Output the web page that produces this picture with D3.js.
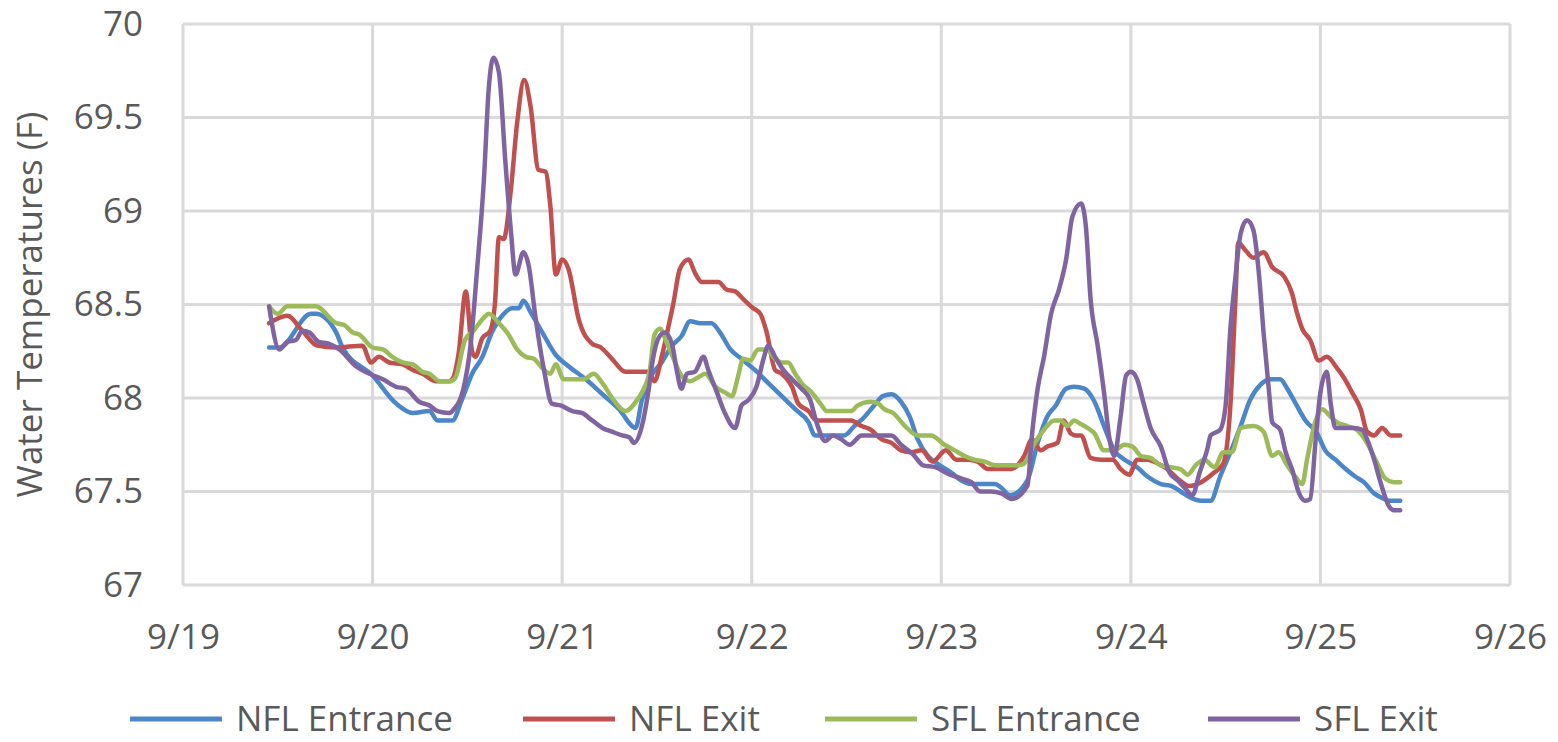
<!DOCTYPE html>
<html>
<head>
<meta charset="utf-8">
<script src="https://cdn.jsdelivr.net/npm/d3@7"></script>
<style>
  body { margin: 0; background: #fff; }
  text { font-family: "Open Sans", "Noto Sans", sans-serif; fill: #595959; }
</style>
</head>
<body>
<div id="chart-area"></div>
<script>
// hours after 9/19 00:00, temperature (F)
var nflEntrance = [[10.9,68.27],[12.2,68.27],[16.2,68.45],[16.8,68.45],[19.4,68.35],[20.2,68.27],[24.0,68.12],[27.0,67.97],[29.1,67.92],[31.2,67.93],[32.2,67.88],[34.1,67.88],[35.3,67.99],[36.6,68.13],[37.9,68.22],[39.1,68.35],[40.4,68.44],[41.7,68.48],[42.5,68.48],[43.1,68.52],[44.0,68.46],[45.5,68.35],[47.2,68.23],[48.8,68.17],[51.0,68.10],[53.1,68.02],[55.2,67.94],[57.3,67.84],[58.1,67.99],[59.3,68.12],[60.6,68.19],[61.9,68.28],[63.1,68.33],[64.2,68.41],[65.5,68.40],[66.9,68.40],[68.0,68.35],[69.3,68.26],[70.7,68.21],[72.4,68.15],[74.1,68.08],[75.8,68.01],[77.5,67.94],[79.2,67.87],[80.0,67.80],[81.5,67.80],[83.7,67.80],[85.0,67.85],[86.3,67.90],[87.5,67.96],[88.6,68.01],[89.7,68.02],[90.9,67.98],[92.0,67.90],[93.0,67.78],[94.3,67.69],[95.8,67.64],[97.3,67.60],[98.5,67.56],[99.8,67.54],[101.5,67.54],[102.8,67.54],[103.6,67.52],[104.7,67.48],[106.9,67.56],[108.2,67.76],[109.4,67.90],[110.5,67.96],[111.8,68.05],[112.8,68.06],[114.1,68.05],[115.4,67.98],[116.6,67.85],[117.9,67.72],[119.2,67.67],[120.8,67.63],[122.1,67.58],[123.8,67.54],[125.1,67.53],[126.3,67.50],[127.4,67.47],[128.9,67.45],[130.1,67.45],[131.3,67.58],[132.6,67.71],[133.9,67.85],[135.1,67.99],[136.4,68.07],[137.7,68.10],[138.9,68.10],[139.8,68.05],[141.0,67.96],[142.1,67.88],[143.6,67.81],[144.6,67.72],[145.9,67.67],[147.2,67.62],[148.4,67.58],[149.5,67.55],[150.8,67.49],[151.6,67.47],[152.9,67.45],[154.1,67.45]];

var nflExit = [[10.9,68.40],[13.2,68.44],[15.1,68.36],[17.0,68.28],[19.4,68.27],[22.7,68.28],[23.8,68.19],[24.8,68.22],[26.1,68.19],[27.8,68.18],[29.1,68.15],[30.3,68.13],[32.0,68.09],[33.7,68.09],[34.1,68.10],[34.9,68.24],[35.8,68.57],[36.6,68.25],[37.0,68.22],[37.9,68.32],[38.9,68.36],[39.5,68.51],[40.0,68.86],[40.6,68.85],[41.5,69.11],[42.3,69.47],[43.2,69.70],[44.0,69.56],[45.0,69.22],[45.9,69.21],[46.5,69.03],[47.2,68.66],[48.0,68.74],[48.8,68.69],[50.1,68.42],[51.8,68.29],[52.9,68.27],[54.3,68.21],[56.0,68.14],[57.5,68.14],[58.9,68.14],[59.7,68.09],[60.6,68.22],[61.4,68.37],[62.1,68.51],[62.9,68.69],[64.0,68.74],[64.8,68.67],[65.7,68.62],[66.7,68.62],[67.8,68.62],[68.8,68.58],[69.9,68.57],[70.9,68.53],[72.2,68.48],[73.1,68.45],[73.9,68.35],[74.96,68.15],[75.8,68.13],[77.1,68.06],[77.9,67.97],[79.2,67.93],[80.2,67.88],[81.5,67.88],[84.6,67.88],[85.9,67.85],[87.1,67.83],[88.4,67.78],[89.7,67.76],[90.9,67.72],[92.2,67.71],[93.5,67.72],[94.9,67.66],[96.6,67.72],[97.9,67.67],[99.4,67.67],[100.6,67.66],[101.9,67.62],[103.2,67.62],[104.9,67.62],[106.5,67.69],[107.5,67.78],[108.6,67.72],[109.4,67.74],[110.7,67.76],[111.5,67.88],[112.4,67.81],[113.0,67.80],[113.7,67.80],[114.9,67.68],[116.2,67.67],[117.7,67.67],[118.7,67.62],[119.8,67.59],[120.8,67.67],[122.1,67.67],[123.4,67.65],[124.6,67.62],[125.9,67.57],[127.4,67.53],[128.9,67.55],[130.5,67.60],[131.7,67.65],[132.6,67.96],[133.2,68.49],[133.6,68.83],[134.5,68.79],[135.5,68.75],[136.8,68.78],[137.9,68.70],[139.4,68.65],[140.4,68.56],[141.0,68.46],[141.7,68.37],[142.7,68.31],[143.8,68.20],[144.8,68.22],[146.1,68.16],[146.96,68.11],[148.0,68.03],[149.1,67.94],[149.9,67.82],[150.8,67.80],[151.8,67.84],[152.9,67.80],[154.1,67.80]];

var sflEntrance = [[10.9,68.49],[12.0,68.45],[13.2,68.49],[16.8,68.49],[19.4,68.40],[20.4,68.39],[21.5,68.35],[22.3,68.34],[24.0,68.27],[25.3,68.26],[26.5,68.22],[27.8,68.19],[29.1,68.18],[30.3,68.14],[31.2,68.13],[32.5,68.09],[33.9,68.09],[34.5,68.11],[35.7,68.31],[36.8,68.36],[38.1,68.43],[38.7,68.45],[40.0,68.40],[41.2,68.34],[42.3,68.26],[43.4,68.22],[44.4,68.21],[45.5,68.16],[46.5,68.13],[47.2,68.18],[48.2,68.10],[49.7,68.10],[50.7,68.10],[52.0,68.13],[53.1,68.08],[54.5,67.99],[56.0,67.93],[57.5,67.99],[58.1,68.03],[59.1,68.15],[59.7,68.34],[60.4,68.37],[61.2,68.30],[62.1,68.21],[63.1,68.12],[64.2,68.09],[65.2,68.11],[66.1,68.13],[67.4,68.06],[68.6,68.03],[69.5,68.01],[70.3,68.12],[70.9,68.21],[71.8,68.20],[72.8,68.26],[73.9,68.26],[74.96,68.21],[75.8,68.19],[76.6,68.19],[77.5,68.13],[78.3,68.08],[79.6,68.03],[80.7,67.97],[81.5,67.93],[82.3,67.93],[84.6,67.93],[85.4,67.96],[87.1,67.98],[88.0,67.97],[88.8,67.94],[89.9,67.92],[91.4,67.85],[93.0,67.80],[94.7,67.80],[96.4,67.75],[97.7,67.72],[98.96,67.69],[100.2,67.67],[101.5,67.66],[102.8,67.64],[104.0,67.64],[105.7,67.64],[106.5,67.65],[107.7,67.75],[109.0,67.83],[110.3,67.88],[111.1,67.88],[112.0,67.85],[112.8,67.88],[113.7,67.86],[114.5,67.84],[115.4,67.81],[116.6,67.72],[117.9,67.72],[119.2,67.75],[120.2,67.74],[121.3,67.69],[122.5,67.68],[123.8,67.64],[125.1,67.63],[126.3,67.62],[127.2,67.59],[128.2,67.64],[129.3,67.67],[130.6,67.63],[131.7,67.71],[132.8,67.71],[133.9,67.84],[135.5,67.85],[136.8,67.82],[137.9,67.69],[138.7,67.71],[139.8,67.64],[140.8,67.58],[141.7,67.54],[142.3,67.67],[143.4,67.88],[144.2,67.94],[145.3,67.90],[146.1,67.87],[147.4,67.85],[148.6,67.83],[149.9,67.76],[151.2,67.65],[152.2,67.57],[153.3,67.55],[154.1,67.55]];

var sflExit = [[10.9,68.49],[12.2,68.26],[13.2,68.30],[14.3,68.31],[15.1,68.36],[16.0,68.35],[17.2,68.30],[18.5,68.29],[19.8,68.26],[21.9,68.17],[23.6,68.13],[25.3,68.10],[27.0,68.06],[28.2,68.05],[29.9,67.98],[31.2,67.96],[32.2,67.93],[33.7,67.92],[34.3,67.94],[35.5,68.05],[36.4,68.28],[37.2,68.67],[38.1,69.17],[38.7,69.65],[39.3,69.82],[40.0,69.74],[40.8,69.27],[41.5,68.90],[42.1,68.66],[43.1,68.78],[43.8,68.70],[44.6,68.44],[45.7,68.15],[46.7,67.97],[47.8,67.96],[49.3,67.93],[50.5,67.92],[51.8,67.88],[53.1,67.84],[54.3,67.82],[55.6,67.80],[56.5,67.79],[57.1,67.76],[58.1,67.85],[58.9,68.03],[59.5,68.21],[60.2,68.32],[61.0,68.35],[61.9,68.29],[62.5,68.15],[63.1,68.05],[63.8,68.13],[64.8,68.14],[65.9,68.22],[66.5,68.15],[67.6,68.03],[68.6,67.92],[69.9,67.84],[70.7,67.96],[71.6,67.99],[72.6,68.06],[73.5,68.21],[74.1,68.28],[74.96,68.22],[76.0,68.15],[77.1,68.10],[78.3,68.05],[79.4,67.99],[80.2,67.87],[81.3,67.77],[82.3,67.80],[83.3,67.78],[84.4,67.75],[85.9,67.80],[87.5,67.80],[89.7,67.80],[90.9,67.75],[92.4,67.70],[93.7,67.64],[95.2,67.63],[97.1,67.59],[98.5,67.57],[99.8,67.55],[100.9,67.50],[102.3,67.50],[103.6,67.49],[104.9,67.46],[106.9,67.53],[107.5,67.81],[108.2,68.05],[109.0,68.22],[109.9,68.45],[110.9,68.58],[111.8,68.74],[112.6,68.97],[113.7,69.04],[114.3,68.92],[114.9,68.53],[115.8,68.28],[116.6,68.03],[117.3,67.78],[117.9,67.69],[118.7,67.90],[119.4,68.12],[120.0,68.14],[120.8,68.10],[121.5,67.99],[122.5,67.84],[123.8,67.74],[124.9,67.60],[125.9,67.56],[126.8,67.52],[127.8,67.48],[128.7,67.60],[129.7,67.73],[130.1,67.80],[131.3,67.83],[132.0,67.96],[132.6,68.37],[133.2,68.63],[133.9,68.88],[134.7,68.95],[135.5,68.90],[136.2,68.67],[136.8,68.35],[137.5,68.03],[137.9,67.87],[138.9,67.83],[139.6,67.71],[140.4,67.62],[141.3,67.49],[142.1,67.45],[142.7,67.46],[143.4,67.78],[144.0,68.03],[144.8,68.14],[145.3,67.97],[145.9,67.84],[146.96,67.84],[148.2,67.84],[149.3,67.83],[149.9,67.78],[150.8,67.67],[151.6,67.55],[152.7,67.42],[153.3,67.40],[154.1,67.40]];

var seriesNames = ["NFL Entrance", "NFL Exit", "SFL Entrance", "SFL Exit"];
var seriesData = [nflEntrance, nflExit, sflEntrance, sflExit];
var seriesColors = ["#4a86c8", "#c0504d", "#9bbb59", "#8064a2"];
var yTicks = [67, 67.5, 68, 68.5, 69, 69.5, 70];
var startDate = new Date(2019, 8, 19);
var endDate = new Date(2019, 8, 26);

var width = 1558, height = 742;
var margin = { top: 24, right: 48, bottom: 157, left: 183 };
var fontSize = "35px";

var svg = d3.select("#chart-area")
	.append("svg")
	.attr("width", width)
	.attr("height", height)
	.style("background", "#fff");

var xScale = d3.scaleTime()
	.domain([startDate, endDate])
	.range([margin.left, width - margin.right]);

var yScale = d3.scaleLinear()
	.domain([67, 70])
	.range([height - margin.bottom, margin.top]);

function toDate(h) {
	return new Date(startDate.getTime() + h * 3600 * 1000);
}

// gridlines
var days = d3.timeDay.range(startDate, d3.timeDay.offset(endDate, 1));
svg.append("g").selectAll("line.h")
	.data(yTicks).enter().append("line")
	.attr("x1", margin.left).attr("x2", width - margin.right)
	.attr("y1", d => yScale(d)).attr("y2", d => yScale(d))
	.attr("stroke", "#d9d9d9").attr("stroke-width", 3);
svg.append("g").selectAll("line.v")
	.data(days).enter().append("line")
	.attr("x1", d => xScale(d)).attr("x2", d => xScale(d))
	.attr("y1", margin.top).attr("y2", height - margin.bottom)
	.attr("stroke", "#d9d9d9").attr("stroke-width", 3);

// axes
var xAxisG = svg.append("g")
	.attr("transform", "translate(0," + (height - margin.bottom) + ")")
	.call(d3.axisBottom(xScale).tickValues(days).tickFormat(d3.timeFormat("%-m/%-d")).tickSize(0).tickPadding(39));
var yAxisG = svg.append("g")
	.attr("transform", "translate(" + margin.left + ",0)")
	.call(d3.axisLeft(yScale).tickValues(yTicks).tickFormat(d3.format("")).tickSize(0).tickPadding(40));
[xAxisG, yAxisG].forEach(g => {
	g.select(".domain").remove();
	g.selectAll("text").attr("font-size", fontSize).attr("fill", "#595959")
		.style("font-family", "'Open Sans', sans-serif");
});

svg.append("text")
	.attr("transform", "translate(42," + ((margin.top + height - margin.bottom) / 2) + ") rotate(-90)")
	.attr("text-anchor", "middle")
	.attr("font-size", fontSize)
	.text("Water Temperatures (F)");

// lines
var line = d3.line()
	.x(d => xScale(toDate(d[0])))
	.y(d => yScale(d[1]))
	.curve(d3.curveMonotoneX);

svg.append("g").selectAll("path")
	.data(seriesData).enter().append("path")
	.attr("d", d => line(d))
	.attr("fill", "none")
	.attr("stroke", (d, i) => seriesColors[i])
	.attr("stroke-width", 4.5)
	.attr("stroke-linejoin", "round")
	.attr("stroke-linecap", "round");

// legend
var legendX = [130, 523, 825, 1208];
var legend = svg.append("g").selectAll("g")
	.data(seriesNames).enter().append("g")
	.attr("transform", (d, i) => "translate(" + legendX[i] + ",719)");
legend.append("line")
	.attr("x1", 0).attr("x2", 92)
	.attr("stroke", (d, i) => seriesColors[i])
	.attr("stroke-width", 5);
legend.append("text")
	.attr("x", 106).attr("y", 12)
	.attr("font-size", fontSize)
	.text(d => d);
</script>
</body>
</html>
